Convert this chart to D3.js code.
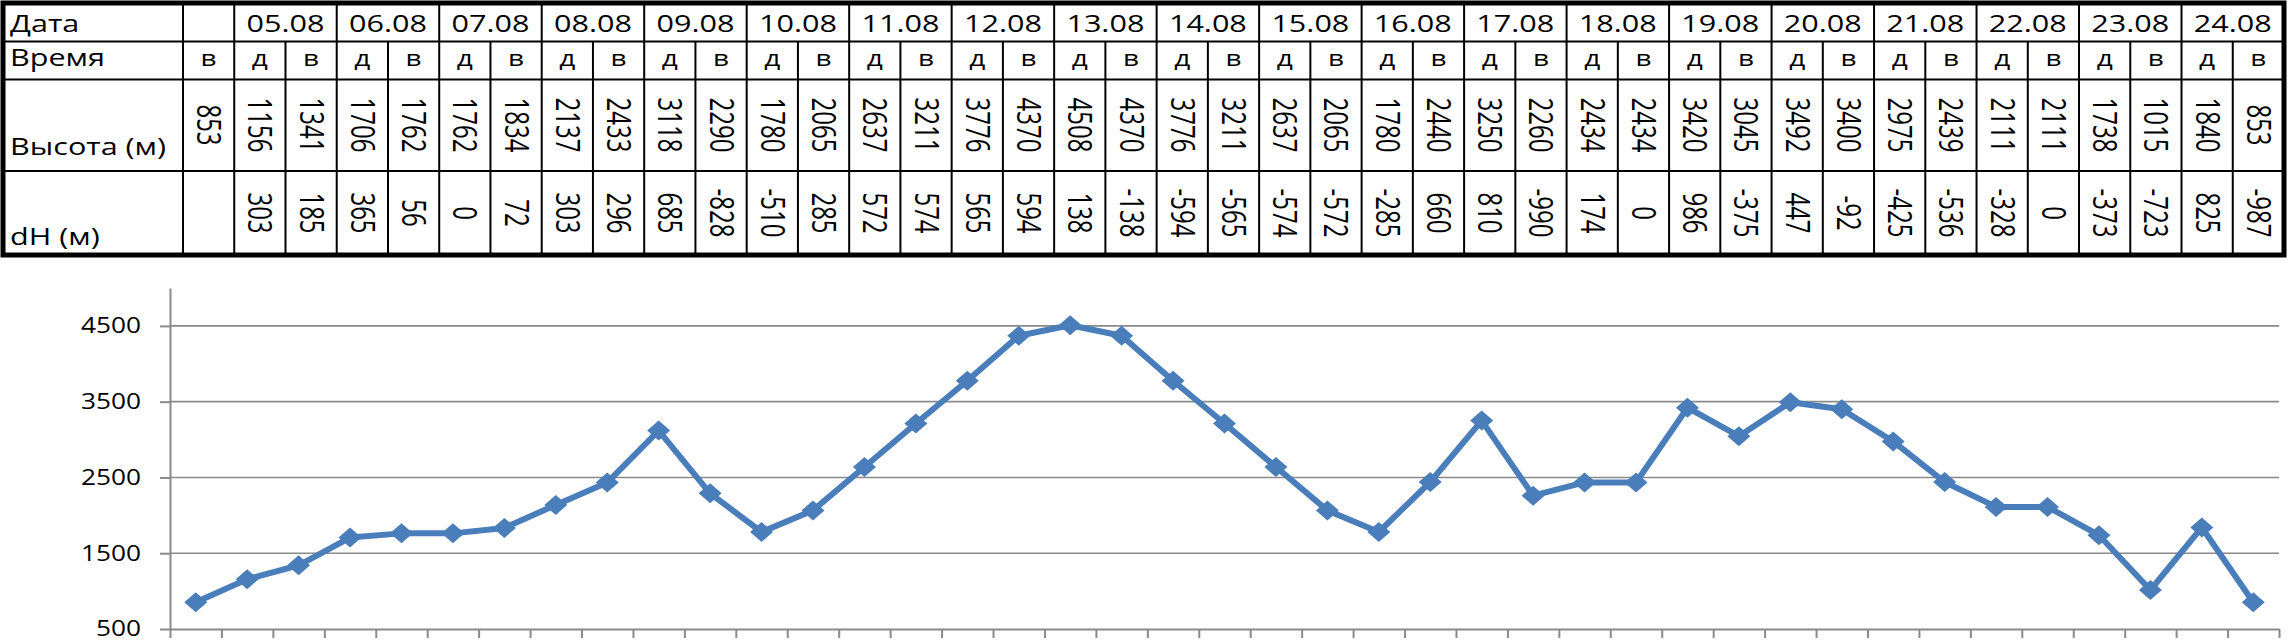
<!DOCTYPE html>
<html><head><meta charset="utf-8">
<script src="https://cdn.jsdelivr.net/npm/d3@7"></script>
<style>body{margin:0;background:#fff}svg{display:block}text{font-family:"Open Sans",sans-serif;fill:#000}</style>
</head><body>
<svg id="c" width="2289" height="640"></svg>
<script>
const dates = ["05.08","06.08","07.08","08.08","09.08","10.08","11.08","12.08","13.08","14.08",
  "15.08","16.08","17.08","18.08","19.08","20.08","21.08","22.08","23.08","24.08"];
const times = ["в","д","в","д","в","д","в","д","в","д","в","д","в","д","в","д","в","д","в","д","в",
  "д","в","д","в","д","в","д","в","д","в","д","в","д","в","д","в","д","в","д","в"];
const heights = [853,1156,1341,1706,1762,1762,1834,2137,2433,3118,2290,1780,2065,2637,3211,3776,4370,4508,4370,3776,
  3211,2637,2065,1780,2440,3250,2260,2434,2434,3420,3045,3492,3400,2975,2439,2111,2111,1738,1015,1840,853];
const dH = [null,303,185,365,56,0,72,303,296,685,-828,-510,285,572,574,565,594,138,-138,-594,
  -565,-574,-572,-285,660,810,-990,174,0,986,-375,447,-92,-425,-536,-328,0,-373,-723,825,-987];
const rowLabels = ["Дата","Время","Высота (м)","dH (м)"];
const yTicks = [500,1500,2500,3500,4500];

const svg = d3.select("#c");
const K = 1.33; // horizontal stretch of glyphs

// ---------- table ----------
const n = heights.length;
const tx = d3.scaleBand().domain(d3.range(n)).range([183,2284]);
const bw = tx.bandwidth();
const rowY = [3,41.5,79.5,171,255];
const tbl = svg.append("g");
const L = (x1,y1,x2,y2,w)=>tbl.append("line").attr("x1",x1).attr("y1",y1).attr("x2",x2).attr("y2",y2)
  .attr("stroke","#000").attr("stroke-width",w);
[1,2,3].forEach(r=>L(3,rowY[r],2284,rowY[r],2));
L(183,rowY[0],183,rowY[4],2);
d3.range(1,n).forEach(i=>L(tx(i),rowY[1],tx(i),rowY[4],2));
d3.range(0,dates.length).forEach(j=>L(tx(1+2*j),rowY[0],tx(1+2*j),rowY[1],2));
tbl.append("rect").attr("x",3).attr("y",3).attr("width",2281).attr("height",252)
  .attr("fill","none").attr("stroke","#000").attr("stroke-width",5);

const labY = [32,66,155,245];
rowLabels.forEach((t,i)=>tbl.append("text").attr("transform",`translate(10,${labY[i]}) scale(${K},1)`)
  .attr("font-size",23).text(t));
dates.forEach((d,j)=>tbl.append("text")
  .attr("transform",`translate(${tx(1+2*j)+bw},32) scale(${K},1)`)
  .attr("text-anchor","middle").attr("font-size",23).text(d));
times.forEach((t,i)=>tbl.append("text")
  .attr("transform",`translate(${tx(i)+bw/2},66) scale(${K},1)`)
  .attr("text-anchor","middle").attr("font-size",21).text(t));
const rot = (vals,cy)=>vals.forEach((v,i)=>{ if(v===null) return;
  tbl.append("text").attr("transform",`translate(${tx(i)+bw/2},${cy}) scale(${K},1) rotate(90)`)
   .attr("text-anchor","middle").attr("dy","0.36em").attr("font-size",24).text(v); });
rot(heights,125);
rot(dH,213);

// ---------- chart ----------
const x = d3.scaleLinear().domain([0,n]).range([170,2279]);
const y = d3.scaleLinear().domain([500,5000]).range([629,288]);
const grid = svg.append("g");
grid.selectAll("line").data(yTicks.slice(1)).join("line")
  .attr("x1",170).attr("x2",2279).attr("y1",d=>y(d)).attr("y2",d=>y(d))
  .attr("stroke","#8a8a8a").attr("stroke-width",1.6);

const ya = svg.append("g").attr("transform","translate(170,0)")
  .call(d3.axisLeft(y).tickValues(yTicks).tickFormat(d3.format("d")).tickSize(10).tickSizeOuter(0).tickPadding(19));
ya.selectAll("path,line").attr("stroke","#8a8a8a").attr("stroke-width",2);
ya.selectAll("text").attr("font-size",21).attr("font-family","'Open Sans',sans-serif")
  .attr("x",0).attr("dy","0.33em")
  .attr("transform",`translate(-29,0) scale(1.25,1)`);

const xa = svg.append("g").attr("transform","translate(0,629)")
  .call(d3.axisBottom(x).tickValues(d3.range(n+1)).tickSize(9).tickSizeOuter(0).tickFormat(""));
xa.selectAll("path,line").attr("stroke","#8a8a8a").attr("stroke-width",2);

const line = d3.line().x((d,i)=>x(i+0.5)).y(d=>y(d));
svg.append("path").datum(heights).attr("d",line).attr("fill","none")
  .attr("stroke","#4A7EBB").attr("stroke-width",6).attr("stroke-linejoin","round");
svg.append("g").selectAll("path").data(heights).join("path")
  .attr("transform",(d,i)=>`translate(${x(i+0.5)},${y(d)})`)
  .attr("d","M0,-10L11.5,0L0,10L-11.5,0Z").attr("fill","#4A7EBB");
</script>
</body></html>
